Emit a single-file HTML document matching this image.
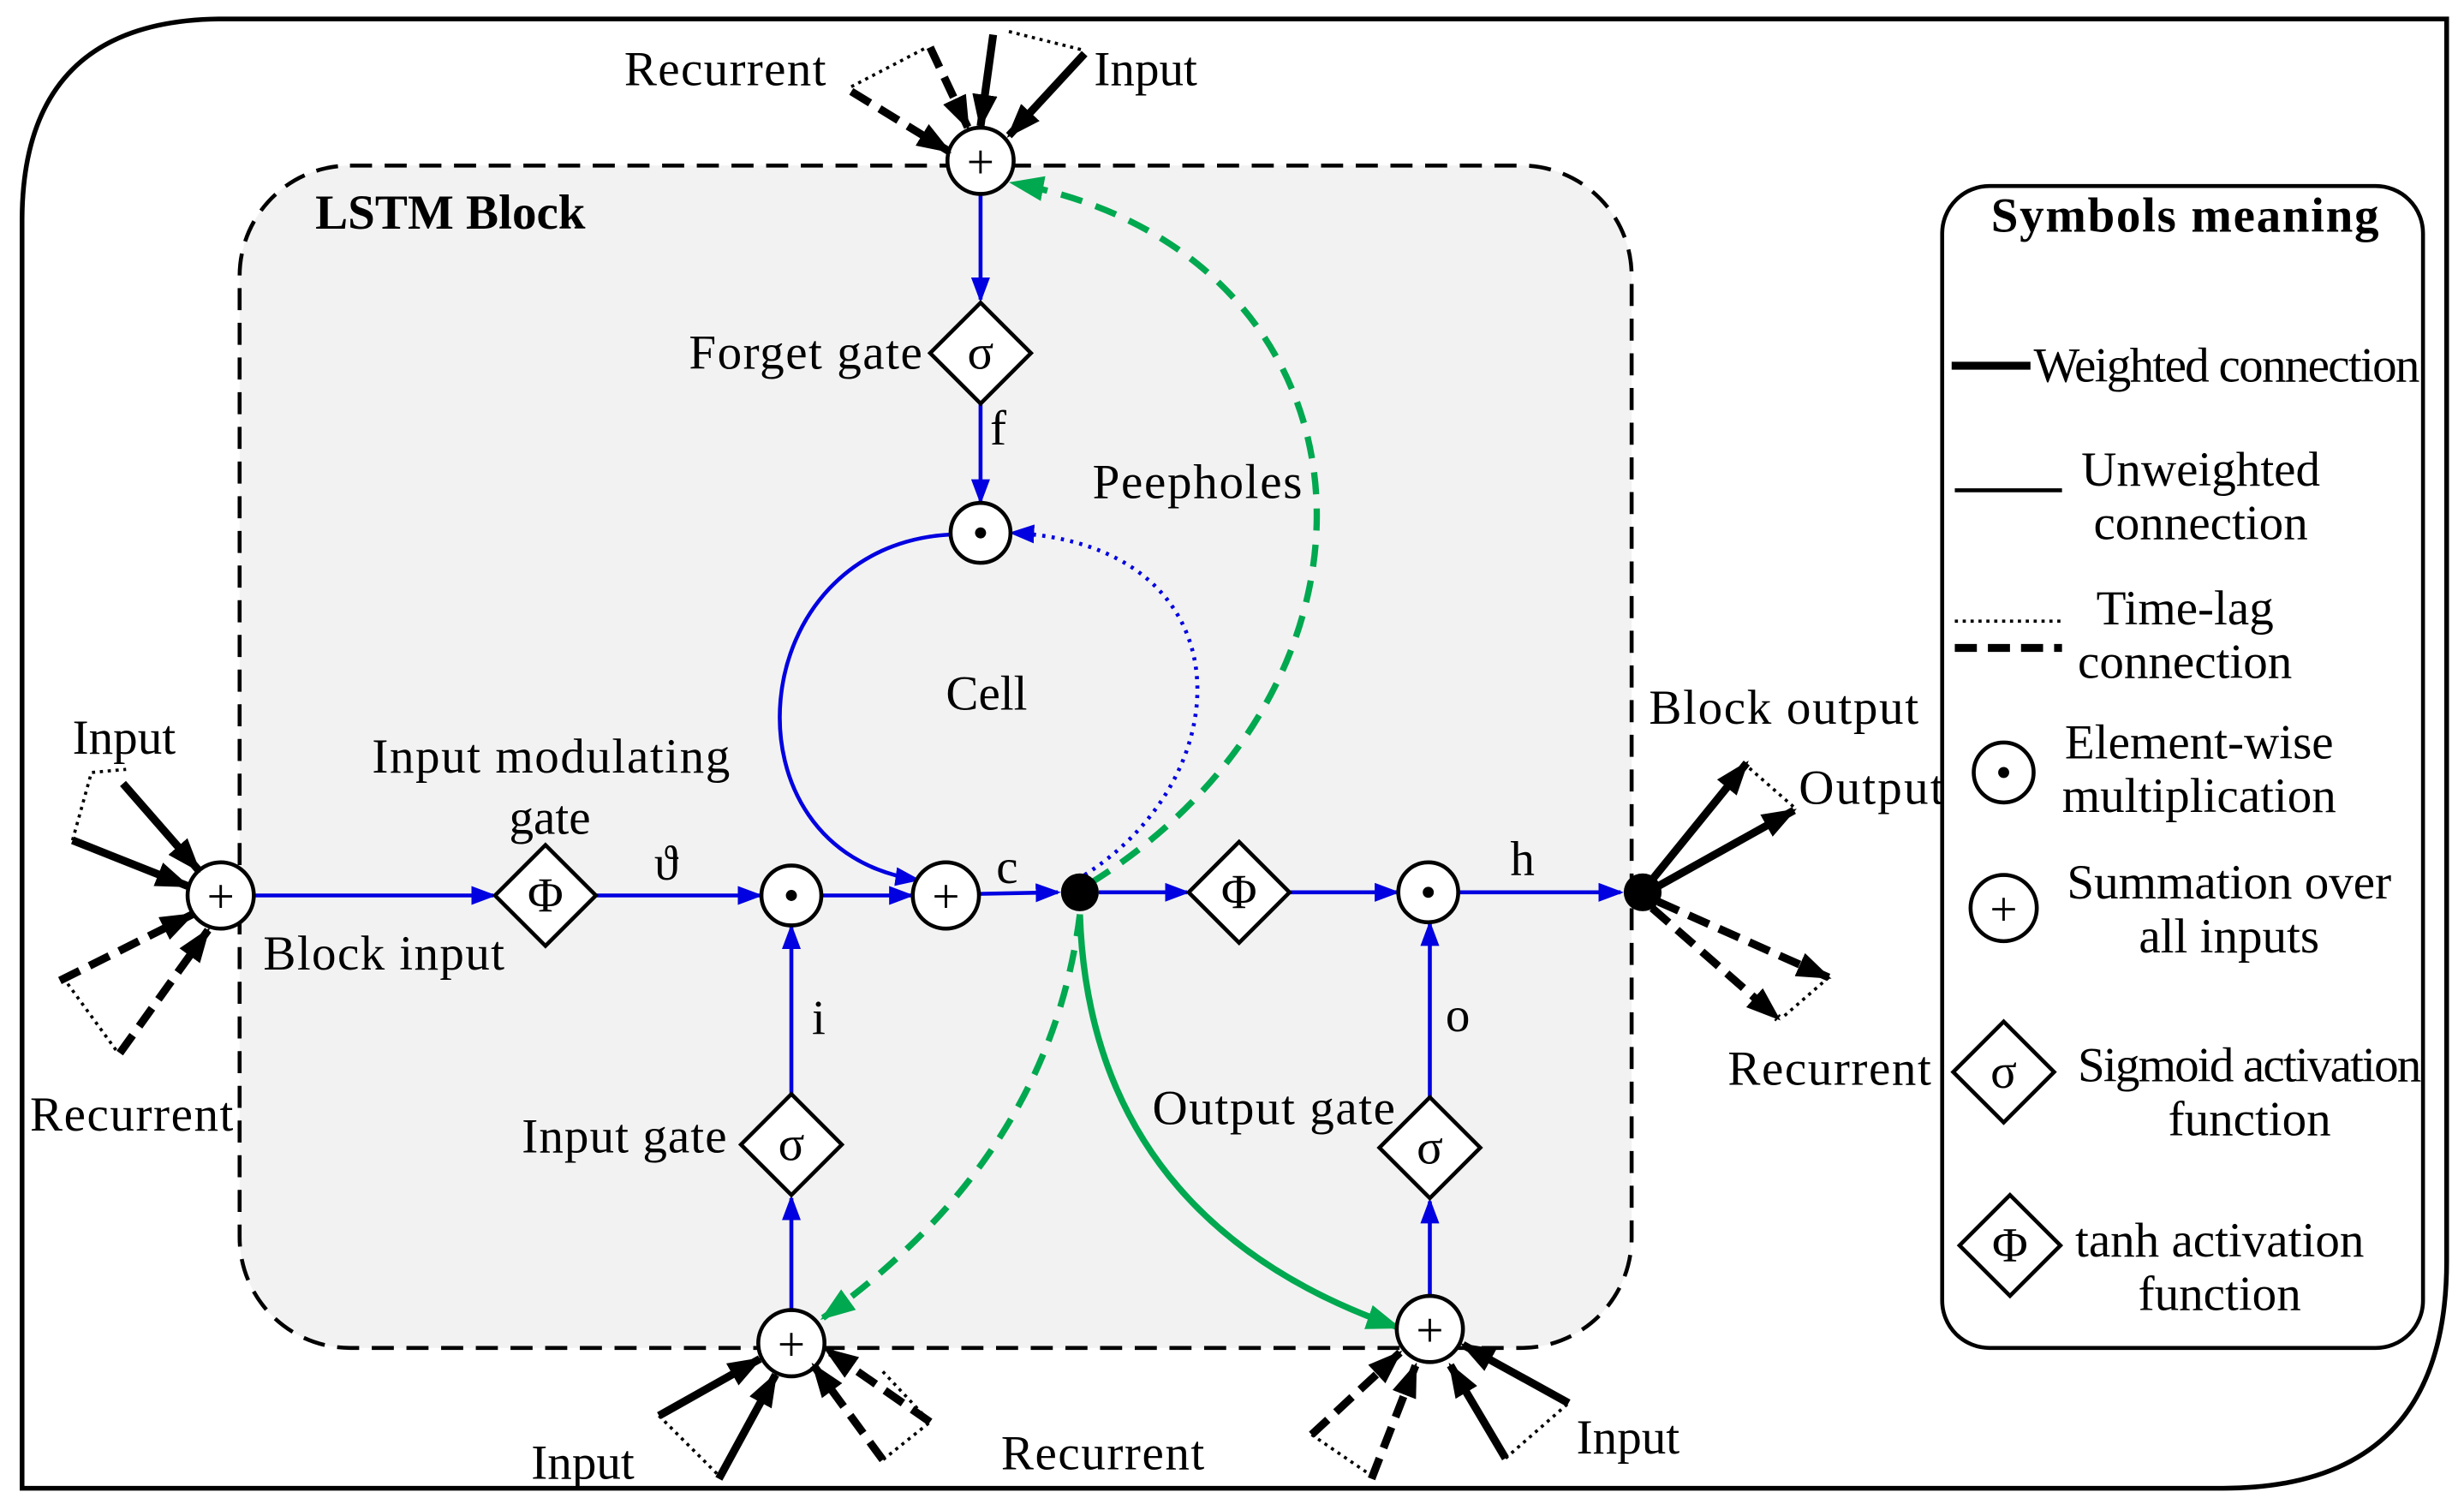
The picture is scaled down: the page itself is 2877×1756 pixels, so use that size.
<!DOCTYPE html>
<html><head><meta charset="utf-8"><style>
html,body{margin:0;padding:0;background:#fff;}
svg{display:block;}
text{font-family:"Liberation Serif",serif;font-size:31px;fill:#000;}
</style></head><body>
<svg width="2877" height="1756" viewBox="0 0 1563 954" preserveAspectRatio="none" xmlns="http://www.w3.org/2000/svg">
<defs>
<marker id="ab" markerUnits="userSpaceOnUse" markerWidth="16" markerHeight="12" refX="14" refY="6" orient="auto"><path d="M0,0 L16,6 L0,12 Z" fill="#0000e0"/></marker>
<marker id="ag" markerUnits="userSpaceOnUse" markerWidth="22" markerHeight="16" refX="20" refY="8" orient="auto"><path d="M0,0 L22,8 L0,16 Z" fill="#00a84f"/></marker>
<marker id="ak" markerUnits="userSpaceOnUse" markerWidth="22" markerHeight="16" refX="20" refY="8" orient="auto"><path d="M0,0 L22,8 L0,16 Z" fill="#000"/></marker>
</defs>
<path d="M14,944 L14,140 Q14,12 142,12 L1552,12 L1552,800 Q1552,944 1410,944 Z" fill="none" stroke="#000" stroke-width="3"/>
<rect x="152" y="105" width="883" height="750" rx="70" fill="#f2f2f2" stroke="#000" stroke-width="2.5" stroke-dasharray="14,8"/>
<text x="200" y="145" font-weight="bold" font-size="30">LSTM Block</text>
<rect x="1232" y="118" width="305" height="737" rx="30" fill="#fff" stroke="#000" stroke-width="2.5"/>
<text x="1263" y="147" font-weight="bold" font-size="30" textLength="246">Symbols meaning</text>
<line x1="1238" y1="232" x2="1288" y2="232" stroke="#000" stroke-width="5"/>
<text x="1290" y="242" font-size="27" textLength="245">Weighted connection</text>
<line x1="1240" y1="311" x2="1308" y2="311" stroke="#000" stroke-width="2.5"/>
<text x="1396" y="308" font-size="27" text-anchor="middle">Unweighted</text>
<text x="1396" y="342" font-size="27" text-anchor="middle">connection</text>
<line x1="1240" y1="394" x2="1308" y2="394" stroke="#000" stroke-width="2" stroke-dasharray="2,3"/>
<line x1="1240" y1="411" x2="1308" y2="411" stroke="#000" stroke-width="5" stroke-dasharray="14,7"/>
<text x="1386" y="396" font-size="27" text-anchor="middle">Time-lag</text>
<text x="1386" y="430" font-size="27" text-anchor="middle">connection</text>
<circle cx="1271" cy="490" r="19" fill="#fff" stroke="#000" stroke-width="2.5"/><circle cx="1271" cy="490" r="3.5"/>
<text x="1395" y="481" font-size="27" text-anchor="middle">Element-wise</text>
<text x="1395" y="515" font-size="27" text-anchor="middle">multiplication</text>
<circle cx="1271" cy="576" r="21" fill="#fff" stroke="#000" stroke-width="2.5"/>
<text x="1271" y="587" text-anchor="middle" font-size="32">+</text>
<text x="1414" y="570" font-size="27" text-anchor="middle">Summation over</text>
<text x="1414" y="604" font-size="27" text-anchor="middle">all inputs</text>
<path d="M1271,648 L1303,680 L1271,712 L1239,680 Z" fill="#fff" stroke="#000" stroke-width="2.5"/>
<text x="1271" y="690" text-anchor="middle" font-size="27">σ</text>
<text x="1427" y="686" font-size="27" text-anchor="middle" textLength="218">Sigmoid activation</text>
<text x="1427" y="720" font-size="27" text-anchor="middle">function</text>
<path d="M1275,758 L1307,790 L1275,822 L1243,790 Z" fill="#fff" stroke="#000" stroke-width="2.5"/>
<text x="1275" y="800" text-anchor="middle" font-size="27">Φ</text>
<text x="1408" y="797" font-size="27" text-anchor="middle">tanh activation</text>
<text x="1408" y="831" font-size="27" text-anchor="middle">function</text>

<g stroke="#0000e0" stroke-width="2.5" fill="none">
<line x1="622" y1="123" x2="622" y2="190" marker-end="url(#ab)"/>
<line x1="622" y1="256" x2="622" y2="318" marker-end="url(#ab)"/>
<line x1="161" y1="568" x2="313" y2="568" marker-end="url(#ab)"/>
<line x1="378" y1="568" x2="482" y2="568" marker-end="url(#ab)"/>
<line x1="520" y1="568" x2="578" y2="568" marker-end="url(#ab)"/>
<line x1="620" y1="567" x2="671" y2="566" marker-end="url(#ab)"/>
<line x1="697" y1="566" x2="753" y2="566" marker-end="url(#ab)"/>
<line x1="818" y1="566" x2="886" y2="566" marker-end="url(#ab)"/>
<line x1="924" y1="566" x2="1028" y2="566" marker-end="url(#ab)"/>
<line x1="502" y1="694" x2="502" y2="588" marker-end="url(#ab)"/>
<line x1="502" y1="831" x2="502" y2="760" marker-end="url(#ab)"/>
<line x1="907" y1="696" x2="907" y2="586" marker-end="url(#ab)"/>
<line x1="907" y1="822" x2="907" y2="762" marker-end="url(#ab)"/>
<path d="M604,339 C470,345 455,540 582,558" marker-end="url(#ab)"/>
<path d="M688,555 C790,490 790,345 642,338" stroke-dasharray="2,4" marker-end="url(#ab)"/>
</g>
<g stroke="#00a84f" stroke-width="4" fill="none">
<path d="M692,560 C900,430 880,160 642,116" stroke-dasharray="14,9" marker-end="url(#ag)"/>
<path d="M685,580 C670,700 600,780 522,836" stroke-dasharray="14,9" marker-end="url(#ag)"/>
<path d="M685,580 C690,730 780,805 887,842" marker-end="url(#ag)"/>
</g>

<g stroke="#000" stroke-width="2.5" fill="#fff">
<circle cx="622" cy="102" r="21"/>
<path d="M622,192 L654,224 L622,256 L590,224 Z"/>
<circle cx="622" cy="338" r="19"/>
<circle cx="140" cy="568" r="21"/>
<path d="M346,536 L378,568 L346,600 L314,568 Z"/>
<circle cx="502" cy="568" r="19"/>
<circle cx="600" cy="568" r="21"/>
<path d="M786,534 L818,566 L786,598 L754,566 Z"/>
<circle cx="906" cy="566" r="19"/>
<path d="M502,694 L534,726 L502,758 L470,726 Z"/>
<circle cx="502" cy="852" r="21"/>
<path d="M907,696 L939,728 L907,760 L875,728 Z"/>
<circle cx="907" cy="843" r="21"/>
</g>
<circle cx="685" cy="566" r="12"/>
<circle cx="1042" cy="566" r="12"/>
<circle cx="622" cy="338" r="3.5"/><circle cx="502" cy="568" r="3.5"/><circle cx="906" cy="566" r="3.5"/>
<g text-anchor="middle">
<text x="622" y="113" font-size="32">+</text><text x="140" y="579" font-size="32">+</text><text x="600" y="579" font-size="32">+</text>
<text x="502" y="863" font-size="32">+</text><text x="907" y="854" font-size="32">+</text>
<text x="622" y="234" font-size="27">σ</text><text x="502" y="736" font-size="27">σ</text><text x="907" y="738" font-size="27">σ</text>
<text x="346" y="578" font-size="27">Φ</text><text x="786" y="576" font-size="27">Φ</text>
</g>

<g fill="none" stroke="#000">
<path d="M540,55 L588,30 M640,20 L688,32" stroke-width="2" stroke-dasharray="2,3"/>
<line x1="630" y1="22" x2="622" y2="80" stroke-width="5" marker-end="url(#ak)"/>
<line x1="688" y1="34" x2="640" y2="86" stroke-width="5" marker-end="url(#ak)"/>
<line x1="540" y1="58" x2="602" y2="96" stroke-width="5" stroke-dasharray="14,7" marker-end="url(#ak)"/>
<line x1="590" y1="30" x2="614" y2="81" stroke-width="5" stroke-dasharray="14,7" marker-end="url(#ak)"/>
<path d="M46,533 L58,490 L80,488 M40,620 L75,668" stroke-width="2" stroke-dasharray="2,3"/>
<line x1="78" y1="497" x2="126" y2="552" stroke-width="5" marker-end="url(#ak)"/>
<line x1="46" y1="533" x2="119" y2="562" stroke-width="5" marker-end="url(#ak)"/>
<line x1="38" y1="622" x2="122" y2="580" stroke-width="5" stroke-dasharray="14,7" marker-end="url(#ak)"/>
<line x1="76" y1="668" x2="132" y2="590" stroke-width="5" stroke-dasharray="14,7" marker-end="url(#ak)"/>
<path d="M418,898 L456,936 M560,870 L590,902 L560,926" stroke-width="2" stroke-dasharray="2,3"/>
<line x1="418" y1="898" x2="482" y2="862" stroke-width="5" marker-end="url(#ak)"/>
<line x1="456" y1="938" x2="492" y2="872" stroke-width="5" marker-end="url(#ak)"/>
<line x1="590" y1="902" x2="524" y2="856" stroke-width="5" stroke-dasharray="14,7" marker-end="url(#ak)"/>
<line x1="560" y1="926" x2="516" y2="866" stroke-width="5" stroke-dasharray="14,7" marker-end="url(#ak)"/>
<path d="M832,910 L870,936 M955,925 L995,890" stroke-width="2" stroke-dasharray="2,3"/>
<line x1="832" y1="910" x2="888" y2="858" stroke-width="5" stroke-dasharray="14,7" marker-end="url(#ak)"/>
<line x1="870" y1="938" x2="898" y2="866" stroke-width="5" stroke-dasharray="14,7" marker-end="url(#ak)"/>
<line x1="955" y1="925" x2="920" y2="866" stroke-width="5" marker-end="url(#ak)"/>
<line x1="995" y1="890" x2="928" y2="853" stroke-width="5" marker-end="url(#ak)"/>
<path d="M1106,484 L1138,512 M1160,620 L1130,646" stroke-width="2" stroke-dasharray="2,3"/>
<line x1="1048" y1="558" x2="1108" y2="484" stroke-width="5" marker-end="url(#ak)"/>
<line x1="1052" y1="562" x2="1138" y2="514" stroke-width="5" marker-end="url(#ak)"/>
<line x1="1052" y1="572" x2="1160" y2="620" stroke-width="5" stroke-dasharray="14,7" marker-end="url(#ak)"/>
<line x1="1048" y1="576" x2="1128" y2="646" stroke-width="5" stroke-dasharray="14,7" marker-end="url(#ak)"/>
</g>

<text x="396" y="54" textLength="128">Recurrent</text>
<text x="694" y="54">Input</text>
<text x="437" y="234" textLength="148">Forget gate</text>
<text x="628" y="282">f</text>
<text x="693" y="316" textLength="133">Peepholes</text>
<text x="600" y="450">Cell</text>
<text x="46" y="478">Input</text>
<text x="236" y="490" textLength="227">Input modulating</text>
<text x="323" y="529">gate</text>
<text x="415" y="558">ϑ</text>
<text x="632" y="560">c</text>
<text x="958" y="555">h</text>
<text x="167" y="615" textLength="153">Block input</text>
<text x="515" y="656">i</text>
<text x="917" y="654">o</text>
<text x="19" y="717" textLength="129">Recurrent</text>
<text x="331" y="731" textLength="130">Input gate</text>
<text x="731" y="713" textLength="154">Output gate</text>
<text x="1046" y="459" textLength="171">Block output</text>
<text x="1141" y="510" textLength="92">Output</text>
<text x="1096" y="688" textLength="129">Recurrent</text>
<text x="337" y="938">Input</text>
<text x="635" y="932" textLength="129">Recurrent</text>
<text x="1000" y="922">Input</text>
</svg>
</body></html>
